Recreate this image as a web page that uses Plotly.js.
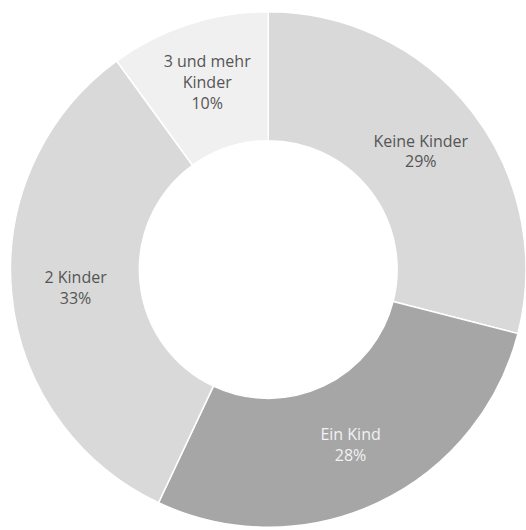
<!DOCTYPE html>
<html>
<head>
<meta charset="utf-8">
<script src="https://cdn.plot.ly/plotly-3.0.1.min.js"></script>
<style>html,body{margin:0;padding:0;background:#fff;}#chart{width:526px;height:530px;}</style>
</head>
<body>
<div id="chart"></div>
<script>
const categories = ["Keine Kinder", "Ein Kind", "2 Kinder", "3 und mehr<br>Kinder"];
const values = [29, 28, 33, 10];
const colors = ["#d9d9d9", "#a6a6a6", "#d9d9d9", "#f0f0f0"];
const textColors = ["#555555", "#f2f2f2", "#555555", "#555555"];

const trace = {
  type: "pie",
  labels: categories,
  values: values,
  sort: false,
  direction: "clockwise",
  rotation: 0,
  hole: 0.5,
  marker: {colors: colors, line: {color: "#ffffff", width: 1.5}},
  texttemplate: "%{label}<br>%{value}%",
  textposition: "inside",
  insidetextorientation: "horizontal",
  insidetextfont: {family: "'Open Sans', sans-serif", size: 16, color: textColors},
  hoverinfo: "none",
  domain: {x: [0.02, 1.0], y: [0.005, 0.978]}
};

const layout = {
  width: 526, height: 530,
  margin: {l: 0, r: 0, t: 0, b: 0},
  paper_bgcolor: "#ffffff",
  showlegend: false
};

Plotly.newPlot("chart", [trace], layout, {displayModeBar: false, staticPlot: true});
</script>
</body>
</html>
